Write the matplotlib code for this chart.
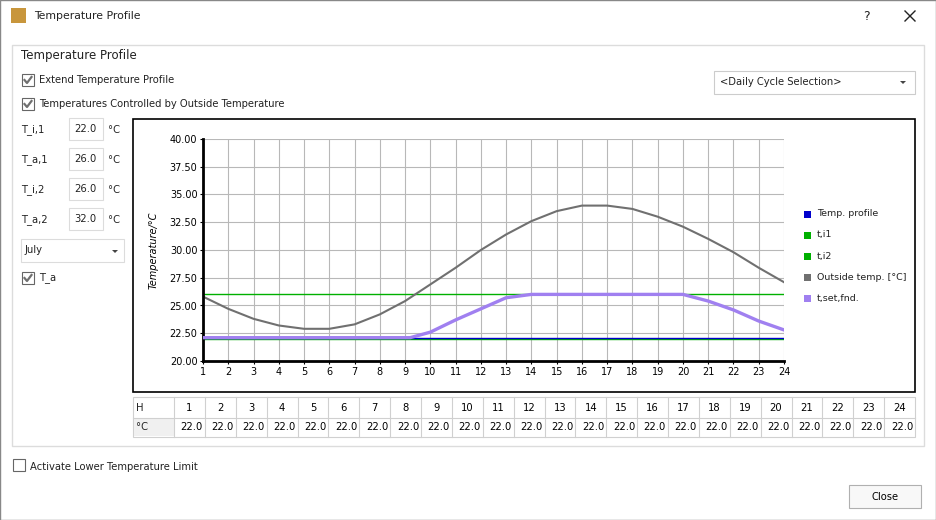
import matplotlib.pyplot as plt
from matplotlib.patches import Rectangle, Polygon

hours = list(range(1, 25))
outside_temp = [25.8, 24.7, 23.8, 23.2, 22.9, 22.9, 23.3, 24.2, 25.4, 26.9, 28.4, 30.0,
                31.4, 32.6, 33.5, 34.0, 34.0, 33.7, 33.0, 32.1, 31.0, 29.8, 28.4, 27.1]
set_x = [1, 9.2, 10, 11, 12, 13, 14, 20, 21, 22, 23, 24]
set_y = [22.1, 22.1, 22.6, 23.7, 24.7, 25.7, 26.0, 26.0, 25.4, 24.6, 23.6, 22.8]
profile_temp = [22.1] * 24
t_i1 = 22.0
t_i2 = 26.0
table_vals = ['22.0'] * 24
params = [('T_i,1', '22.0'), ('T_a,1', '26.0'), ('T_i,2', '26.0'), ('T_a,2', '32.0')]
legend_items = [('Temp. profile', '#0000cc'), ('t,i1', '#00b000'), ('t,i2', '#00b000'),
                ('Outside temp. [°C]', '#707070'), ('t,set,fnd.', '#a080f0')]

W, H = 936, 520
fig = plt.figure(figsize=(W / 100, H / 100), dpi=100)
bg = fig.add_axes([0, 0, 1, 1])
bg.set_xlim(0, W)
bg.set_ylim(H, 0)
bg.axis('off')
F = 'DejaVu Sans'
fs = 7.2


def txt(x, y, s, size=fs, **kw):
    bg.text(x, y, s, fontsize=size, va='center', family=F, color='#222222', **kw)


def checkbox(x, y, checked=True):
    bg.add_patch(Rectangle((x, y - 6), 12, 12, fc='white', ec='#666666', lw=0.8))
    if checked:
        bg.plot([x + 2.5, x + 5, x + 9.5], [y, y + 3, y - 3], color='#707070', lw=1.6)


# window
bg.add_patch(Rectangle((0, 0), W, H, fc='white', ec='#888888', lw=1))
bg.add_patch(Rectangle((11, 8), 15, 15, fc='#c8963c', ec='none'))
txt(34, 16, 'Temperature Profile', size=7.8)
txt(863, 16, '?', size=9)
bg.plot([905, 915], [11, 21], color='#222222', lw=1)
bg.plot([905, 915], [21, 11], color='#222222', lw=1)
bg.add_patch(Rectangle((12, 45), 912, 401, fc='none', ec='#dcdcdc', lw=1))
txt(21, 55, 'Temperature Profile', size=8.5)
checkbox(22, 80)
txt(39, 80, 'Extend Temperature Profile')
checkbox(22, 104)
txt(39, 104, 'Temperatures Controlled by Outside Temperature')

bg.add_patch(Rectangle((714, 71), 201, 23, fc='white', ec='#cccccc', lw=0.8))
txt(720, 82, '<Daily Cycle Selection>')
bg.add_patch(Polygon([[900, 81], [906, 81], [903, 84]], fc='#444444'))

for i, (lab, val) in enumerate(params):
    y = 130 + i * 30
    txt(21, y, lab)
    bg.add_patch(Rectangle((69, y - 12), 34, 22, fc='white', ec='#dcdcdc', lw=0.8))
    txt(74, y - 1, val)
    txt(108, y, '°C')
bg.add_patch(Rectangle((21, 239), 103, 23, fc='white', ec='#dcdcdc', lw=0.8))
txt(25, 250, 'July')
bg.add_patch(Polygon([[112, 250], [118, 250], [115, 253]], fc='#444444'))
checkbox(22, 278)
txt(39, 278, 'T_a')

# chart frame
bg.add_patch(Rectangle((133, 119), 782, 273, fc='white', ec='black', lw=1.2))

# legend
for i, (lab, col) in enumerate(legend_items):
    y = 214 + i * 21
    bg.add_patch(Rectangle((804, y - 3.5), 7, 7, fc=col, ec='none'))
    txt(817, y, lab, size=6.8)

# table
x0, cw = 174, (915 - 174) / 24
bg.add_patch(Rectangle((133, 397), 782, 40, fc='white', ec='#d0d0d0', lw=0.8))
bg.add_patch(Rectangle((134, 418), 40, 18, fc='#f0f0f0', ec='none'))
bg.plot([133, 915], [418, 418], color='#d0d0d0', lw=0.8)
txt(136, 408, 'H')
txt(136, 427, '°C')
for i in range(24):
    xl = x0 + i * cw
    bg.plot([xl, xl], [397, 437], color='#d0d0d0', lw=0.8)
    bg.text(xl + cw / 2, 408, str(hours[i]), fontsize=fs, ha='center', va='center', family=F)
    bg.text(xl + cw - 2, 427, table_vals[i], fontsize=fs, ha='right', va='center', family=F)

checkbox(13, 465, checked=False)
txt(30, 467, 'Activate Lower Temperature Limit')
bg.add_patch(Rectangle((849, 485), 72, 23, fc='#f8f8f8', ec='#b0b0b0', lw=0.8))
bg.text(885, 497, 'Close', fontsize=fs, ha='center', va='center', family=F)

# plot
ax = fig.add_axes([203 / W, 1 - 361 / H, (784 - 203) / W, (361 - 139) / H])
ax.set_xlim(1, 24)
ax.set_ylim(20, 40)
ax.set_xticks(hours)
ax.set_yticks([20 + 2.5 * k for k in range(9)])
ax.set_yticklabels([f'{20 + 2.5 * k:.2f}' for k in range(9)])
ax.grid(True, color='#b8b8b8', lw=0.8)
ax.tick_params(labelsize=7, length=2, pad=2)
for s in ['top', 'right']:
    ax.spines[s].set_visible(False)
ax.spines['left'].set_linewidth(2)
ax.spines['bottom'].set_linewidth(2)
ax.set_ylabel('Temperature/°C', fontsize=7, style='italic', labelpad=8)

ax.axhline(t_i1, color='#00b000', lw=1)
ax.axhline(t_i2, color='#00b000', lw=1)
ax.plot(hours, profile_temp, color='#0000cc', lw=1)
ax.plot(hours, outside_temp, color='#707070', lw=1.5)
ax.plot(set_x, set_y, color='#a080f0', lw=2.4, zorder=5)

fig.savefig('out.png', dpi=100)
